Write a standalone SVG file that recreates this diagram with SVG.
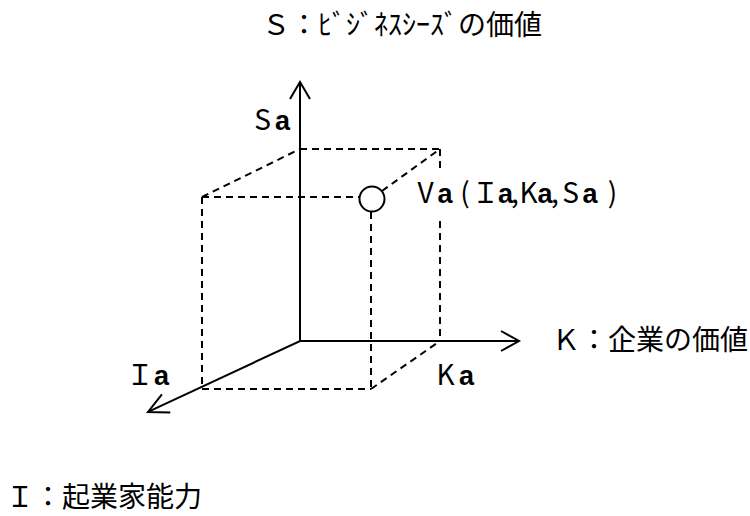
<svg xmlns="http://www.w3.org/2000/svg" width="750" height="516" viewBox="0 0 750 516">
<style>
.ax{stroke:#000;stroke-width:2;fill:none;stroke-linecap:square}
.hd{stroke:#000;stroke-width:2;fill:none;stroke-linejoin:miter}
.dsh{stroke:#000;stroke-width:2;fill:none;stroke-dasharray:7 5}
.t{font-family:"Noto Sans CJK JP","Noto Sans",sans-serif;font-size:28px;fill:#000}
.b{font-family:"Liberation Sans",Arial,sans-serif;font-weight:bold;font-size:27px}
.c{text-anchor:middle}
</style>
<rect width="750" height="516" fill="#fff"/>
<g id="connectors">
  <g id="axes">
    <line class="ax" x1="300" y1="341" x2="300" y2="83"/>
    <polyline class="hd" points="290,99 300,82 310,99"/>
    <line class="ax" x1="300" y1="341" x2="518" y2="341"/>
    <polyline class="hd" points="501,331 519,341 501,351"/>
    <line class="ax" x1="300" y1="341" x2="150" y2="411"/>
    <polyline class="hd" points="161.9,394.4 148,412 170.3,412.6"/>
  </g>
  <g id="cube">
    <line class="dsh" x1="300" y1="149" x2="440" y2="149"/>
    <line class="dsh" x1="202" y1="197" x2="300" y2="149"/>
    <line class="dsh" x1="382" y1="191" x2="440" y2="149"/>
    <line class="dsh" x1="202" y1="197" x2="359" y2="197"/>
    <line class="dsh" x1="440" y1="149" x2="440" y2="172"/>
    <line class="dsh" x1="440" y1="221" x2="440" y2="341"/>
    <line class="dsh" x1="202" y1="197" x2="202" y2="389"/>
    <line class="dsh" x1="371" y1="212" x2="371" y2="389"/>
    <line class="dsh" x1="202" y1="389" x2="371" y2="389"/>
    <line class="dsh" x1="371" y1="389" x2="440" y2="341"/>
  </g>
</g>
<g id="point-Va">
  <circle cx="372" cy="199" r="12.5" fill="#fff" stroke="#000" stroke-width="2"/>
  <text class="t c" x="425.5 445 465 485.5 505.5 515 528.5 545 555 570.5 590 612.5" y="203">V<tspan class="b">a</tspan>(Ｉ<tspan class="b">a</tspan>,K<tspan class="b">a</tspan>,S<tspan class="b">a</tspan>)</text>
</g>
<g id="label-S">
  <text class="t" x="262" y="35">Ｓ：ﾋﾞｼﾞﾈｽｼｰｽﾞの価値</text>
</g>
<g id="label-Sa">
  <text class="t c" x="262.5 282.5" y="130">S<tspan class="b">a</tspan></text>
</g>
<g id="label-K">
  <text class="t" x="552" y="350">Ｋ：企業の価値</text>
</g>
<g id="label-Ka">
  <text class="t c" x="445.5 466.5" y="385">K<tspan class="b">a</tspan></text>
</g>
<g id="label-Ia">
  <text class="t c" x="140 161.5" y="385">Ｉ<tspan class="b">a</tspan></text>
</g>
<g id="label-I">
  <text class="t" x="6" y="507">Ｉ：起業家能力</text>
</g>
</svg>
